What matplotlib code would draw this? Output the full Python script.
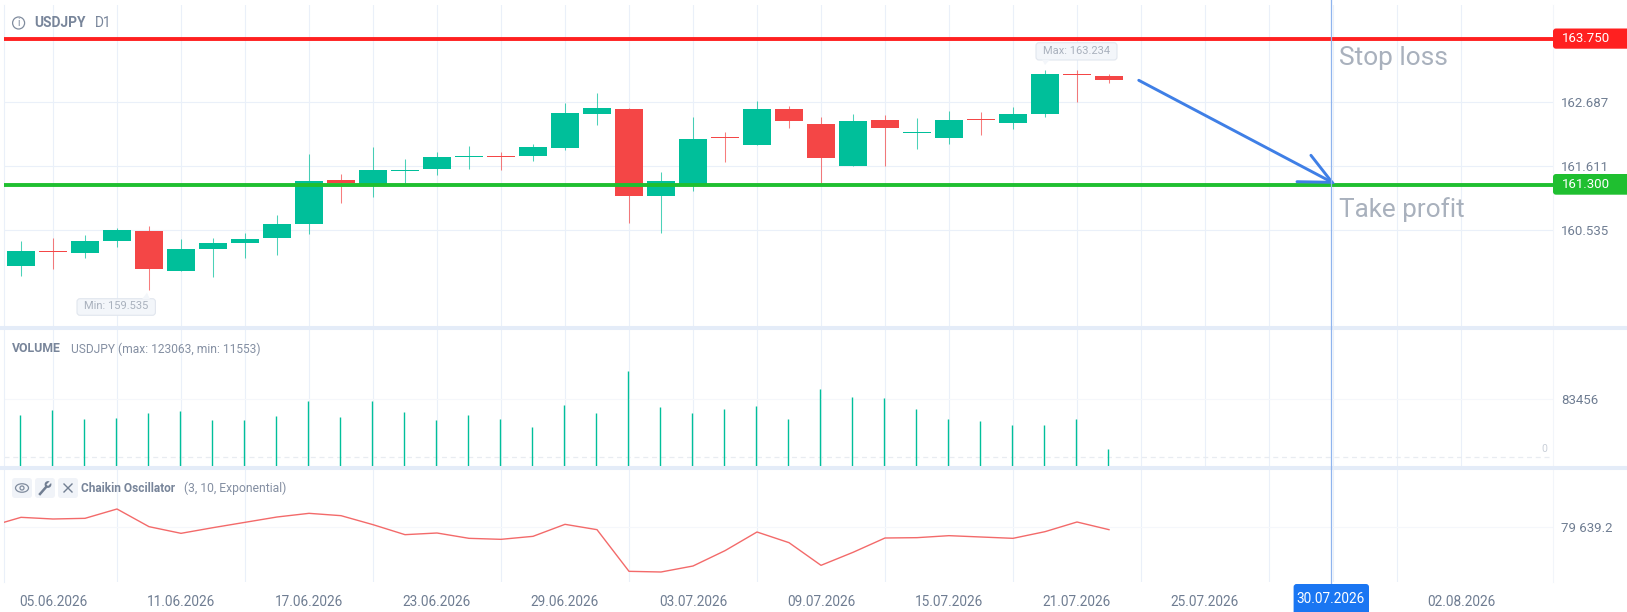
import matplotlib
matplotlib.use('Agg')
import matplotlib.pyplot as plt
from matplotlib.patches import FancyBboxPatch, Circle, Ellipse, Polygon

plt.rcParams['font.family'] = ['Roboto', 'DejaVu Sans']

W, H = 1627, 612

# candles
opens = [159.940, 160.193, 160.153, 160.361, 160.518, 159.851, 160.221, 160.316, 160.411,
         160.647, 161.375, 161.297, 161.532, 161.566, 161.773, 161.784, 161.779, 161.924,
         162.496, 162.580, 161.106, 161.297, 162.098, 161.975, 162.580, 162.322, 161.616,
         162.389, 162.171, 162.092, 162.412, 162.333, 162.485, 163.157, 163.129]
closes = [160.193, 160.176, 160.361, 160.540, 159.890, 160.215, 160.316, 160.394, 160.641,
          161.370, 161.325, 161.549, 161.543, 161.773, 161.784, 161.767, 161.941, 162.513,
          162.586, 161.117, 161.369, 162.075, 162.081, 162.580, 162.373, 161.756, 162.373,
          162.249, 162.188, 162.389, 162.395, 162.490, 163.163, 163.140, 163.067]
highs = [160.350, 160.406, 160.456, 160.568, 160.607, 160.389, 160.406, 160.484, 160.798,
         161.818, 161.482, 161.936, 161.739, 161.851, 161.952, 161.851, 161.986, 162.681,
         162.849, 162.597, 161.515, 162.440, 162.188, 162.714, 162.625, 162.440, 162.490,
         162.479, 162.423, 162.546, 162.524, 162.608, 163.234, 163.230, 163.163]
lows = [159.761, 159.879, 160.075, 160.254, 159.535, 159.851, 159.755, 160.064, 160.125,
        160.478, 161.000, 161.100, 161.325, 161.470, 161.566, 161.549, 161.700, 161.885,
        162.311, 160.652, 160.495, 161.190, 161.678, 161.975, 162.260, 161.325, 161.616,
        161.616, 161.907, 161.991, 162.137, 162.244, 162.434, 162.698, 163.006]

volumes = [60123, 67280, 54397, 55828, 62512, 66327, 52965, 52965, 58691, 80644, 57736, 80644,
           64418, 52965, 59646, 53919, 42467, 73964, 63464, 123063, 71575, 63464, 69190, 73006,
           54874, 96864, 86365, 84458, 69190, 54874, 52010, 46283, 46283, 53919, 11553]

# first value sits one bar left of the chart edge
chaikin = [79972, 89306, 87639, 88306, 97639, 79972, 73306, 78972, 84306, 89639, 93306, 90972,
           81972, 71972, 73639, 68306, 67306, 70306, 82306, 76972, 35306, 34639, 40639, 55972,
           74639, 63972, 41306, 54306, 68639, 68972, 70972, 69639, 68306, 74972, 84639, 76972]

date_pos = [1, 5, 9, 13, 17, 21, 25, 29, 33, 37, 45]
date_labels = ['05.06.2026', '11.06.2026', '17.06.2026', '23.06.2026', '29.06.2026', '03.07.2026',
               '09.07.2026', '15.07.2026', '21.07.2026', '25.07.2026', '02.08.2026']
price_ticks = [162.687, 161.611, 160.535]
stop_loss = 163.750
take_profit = 161.300
arrow_x = [34.93, 40.97]
arrow_y = [163.057, 161.342]
head_x = [40.31, 40.97, 39.875]
head_y = [161.796, 161.342, 161.352]

GREEN = '#00bf9a'
RED = '#f44646'
GRID = '#eaf0f9'
TEXT = '#6f7d92'
DRAWN = '#a9b1bd'
BLUE = '#3f7fe6'

LEFT, RIGHT = 4, 1553
XMIN = (LEFT - 21) / 32
XMAX = (RIGHT - 21) / 32


def panel(top, bottom, ylim):
    ax = fig.add_axes([LEFT / W, 1 - bottom / H, (RIGHT - LEFT) / W, (bottom - top) / H])
    ax.set_xlim(XMIN, XMAX)
    ax.set_ylim(*ylim)
    ax.patch.set_alpha(0)
    for s in ['top', 'bottom']:
        ax.spines[s].set_visible(False)
    ax.spines['left'].set_color(GRID)
    ax.spines['right'].set_color('#f2f5fa')
    ax.set_xticks(range(1, 47, 2), minor=True)
    ax.grid(which='minor', axis='x', color=GRID, lw=0.8)
    ax.yaxis.tick_right()
    ax.tick_params(which='both', length=0, labelsize=9.5, labelcolor=TEXT, pad=5.6)
    ax.tick_params(which='both', labelbottom=False)
    ax.set_axisbelow(True)
    return ax


fig = plt.figure(figsize=(W / 100, H / 100), dpi=100, facecolor='white')

# price panel
ax1 = panel(5, 326, (158.926, 164.323))
ax1.set_xticks([])
ax1.set_yticks(price_ticks, ['162.687', '161.611', '160.535'])
ax1.grid(axis='y', color=GRID, lw=0.8)
for i in range(len(opens)):
    c = GREEN if closes[i] >= opens[i] else RED
    ax1.vlines(i, lows[i], highs[i], color=c, lw=0.75, alpha=0.7, zorder=2)
    ax1.bar(i, abs(closes[i] - opens[i]), bottom=min(opens[i], closes[i]), width=0.866, color=c, zorder=3)
ax1.axhline(stop_loss, color='#ff2020', lw=2.8, zorder=4)
ax1.axhline(take_profit, color='#1fbf30', lw=2.8, zorder=4)
ax1.plot(arrow_x, arrow_y, color=BLUE, lw=2.1, zorder=5, solid_capstyle='round')
ax1.plot(head_x, head_y, color=BLUE, lw=2.1, zorder=5, solid_capstyle='round', solid_joinstyle='miter')

# volume panel
ax2 = panel(330, 466, (-12884, 181800))
ax2.set_xticks([])
ax2.set_yticks([83456], ['83456'])
ax2.grid(axis='y', color='#f5f7fb', lw=0.8)
ax2.axhline(0, color='#e8ecf1', lw=0.9, ls=(0, (4, 3)))
ax2.vlines([i - 0.03 for i in range(len(volumes))], -12884, volumes, color=GREEN, lw=1.0, zorder=3)

# oscillator panel
ax3 = panel(470, 582, (24639, 136639))
ax3.set_xticks(date_pos, date_labels)
ax3.set_yticks([79639.2], ['79 639.2'])
ax3.grid(axis='y', color='#f5f7fb', lw=0.8)
ax3.tick_params(axis='x', which='major', labelbottom=True, labelsize=9.8, labelcolor=TEXT, pad=9)
ax3.plot(range(-1, len(chaikin) - 1), chaikin, color='#f36a6a', lw=1.0, zorder=3)

# overlay in pixel coordinates for the chart's furniture
ov = fig.add_axes([0, 0, 1, 1], zorder=10)
ov.set_xlim(0, W)
ov.set_ylim(H, 0)
ov.axis('off')
ov.patch.set_alpha(0)

for y in [327.7, 467.7]:
    ov.plot([0, W], [y, y], color='#e4ecf8', lw=2.9, solid_capstyle='butt', zorder=1)
ov.plot([1331, 1331], [0, 585], color='#8fb4ee', lw=0.9, zorder=2)


def box(x0, y0, x1, y1, fc, ec='none', r=3, z=3):
    ov.add_patch(FancyBboxPatch((x0 + r, y0 + r), x1 - x0 - 2 * r, y1 - y0 - 2 * r,
                                boxstyle='round,pad=%d,rounding_size=%d' % (r, r),
                                fc=fc, ec=ec, lw=0.8, zorder=z))


# price tags
box(1553, 28.5, 1630, 48.7, '#ff2020')
box(1553, 174, 1630, 194.7, '#1fbf30')
ov.text(1561.5, 38.3, '163.750', color='white', fontsize=9.5, va='center', zorder=4)
ov.text(1561.5, 184.3, '161.300', color='white', fontsize=9.5, va='center', zorder=4)

# date badge
box(1293.6, 584, 1369, 620, '#1a76f2')
ov.text(1331, 598.7, '30.07.2026', color='white', fontsize=9.8, ha='center', va='center', zorder=4)

# drawing labels
ov.text(1339, 58, 'Stop loss', color=DRAWN, fontsize=19, va='center')
ov.text(1339, 209.5, 'Take profit', color=DRAWN, fontsize=18.8, va='center')

# max / min callouts
box(1036, 42.7, 1117, 60, '#f3f6fa', '#e1e6ee')
ov.add_patch(Polygon([[1042, 59.6], [1050, 59.6], [1045, 65]], fc='#f3f6fa', ec='none', zorder=4))
ov.text(1076.5, 50.5, 'Max: 163.234', color=DRAWN, fontsize=8, ha='center', va='center', zorder=4)
box(77, 298.7, 155.4, 315.3, '#f3f6fa', '#e1e6ee')
ov.add_patch(Polygon([[142, 299.1], [150, 299.1], [147, 292.7]], fc='#f3f6fa', ec='none', zorder=4))
ov.text(116, 306.3, 'Min: 159.535', color=DRAWN, fontsize=8, ha='center', va='center', zorder=4)

# title row
ov.add_patch(Circle((18.6, 23), 6, fc='none', ec='#808c9e', lw=0.9))
ov.text(18.6, 23.2, 'i', color='#808c9e', fontsize=7.5, ha='center', va='center')
ov.text(34, 23, 'USDJPY', color='#78859a', fontsize=9.9, fontweight='bold', va='center')
ov.text(95, 23, 'D1', color='#78859a', fontsize=9.9, va='center')

# volume title
ov.text(12, 349, 'VOLUME', color='#78859a', fontsize=8.8, fontweight='bold', va='center')
ov.text(71, 349, 'USDJPY (max: 123063, min: 11553)', color='#848fa2', fontsize=8.65, va='center')

# oscillator title with its three buttons
for x0 in [12, 35, 58]:
    box(x0, 478, x0 + 20, 498, '#f0f3f8')
ov.add_patch(Ellipse((22, 488), 13, 8.5, fc='none', ec='#808c9e', lw=0.9, zorder=4))
ov.add_patch(Circle((22, 488), 2, fc='none', ec='#808c9e', lw=0.9, zorder=4))
ov.plot([40, 47], [494, 486], color='#717e92', lw=1.8, zorder=4)
ov.add_patch(Circle((48, 484.5), 3.4, fc='#717e92', ec='none', zorder=4))
ov.plot([48, 52], [484.5, 480.5], color='#f0f3f8', lw=1.6, zorder=5)
ov.plot([64, 72], [484, 492], color='#717e92', lw=1, zorder=4)
ov.plot([72, 64], [484, 492], color='#717e92', lw=1, zorder=4)
ov.text(81, 488, 'Chaikin Oscillator', color='#78859a', fontsize=8.6, fontweight='bold', va='center')
ov.text(184.5, 488, '(3, 10, Exponential)', color='#848fa2', fontsize=8.7, va='center')

ov.text(1544.7, 449, '0', color='#c9cfd8', fontsize=7.5, ha='center', va='center')

fig.savefig('out.png', dpi=100)
